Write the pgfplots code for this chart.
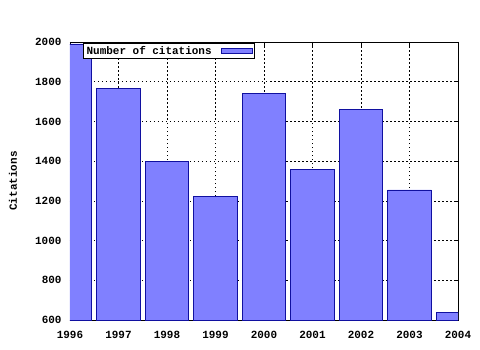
\documentclass[border=0pt]{standalone}
\usepackage{pgfplots}
\pgfplotsset{compat=1.18}
\usepackage{fontspec}
\setmainfont{Liberation Mono}
\definecolor{barfill}{HTML}{8080FF}
\definecolor{baredge}{HTML}{1010A0}
\begin{document}
\begin{tikzpicture}
\begin{axis}[
  scale only axis,
  width=388bp, height=278bp,
  xmin=1996, xmax=2004,
  ymin=600, ymax=2000,
  xtick={1996,...,2004},
  ytick={600,800,...,2000},
  minor x tick num=4,
  grid=major,
  major grid style={black, dash pattern=on 1.5bp off 2.5bp, line width=0.6bp},
  axis line style={line width=0.8bp},
  tick style={black, line width=0.7bp},
  major tick length=4.5bp,
  minor tick length=2bp,
  /pgf/number format/1000 sep={},
  /pgf/number format/assume math mode=true,
  tick label style={font=\fontsize{11}{12}\selectfont\bfseries},
  xticklabel style={yshift=-8bp},
  yticklabel style={xshift=-5bp},
  ylabel={Citations},
  every axis y label/.style={at={(axis description cs:-0.147,0.5)}, anchor=center, rotate=90,
    font=\fontsize{11}{12}\selectfont\bfseries},
  legend plot pos=right,
  legend style={at={(rel axis cs:0.4768,0.996)}, anchor=north east,
    font=\fontsize{11}{12}\selectfont\bfseries, draw=black, line width=0.8bp,
    inner sep=0.6bp, inner xsep=1bp, row sep=0pt},
  legend image code/.code={\path[draw=none, fill=none] (0bp,0bp) -- (40bp,0bp);
    \draw[#1, line width=0.8bp] (8bp,-2.8bp) rectangle (39bp,2.8bp);},
  clip=true,
]
\addplot[ybar, bar width=0.9, fill=barfill, draw=baredge, line width=0.8bp, bar shift=0pt]
  coordinates {(1996,1990) (1997,1765) (1998,1400) (1999,1222) (2000,1740) (2001,1360) (2002,1660) (2003,1255) (2004,640)};
\addlegendentry{Number of citations}
\end{axis}
\path (current axis.south west) ++(-70bp,-30bp) rectangle ++(480bp,350bp);
\end{tikzpicture}
\end{document}
